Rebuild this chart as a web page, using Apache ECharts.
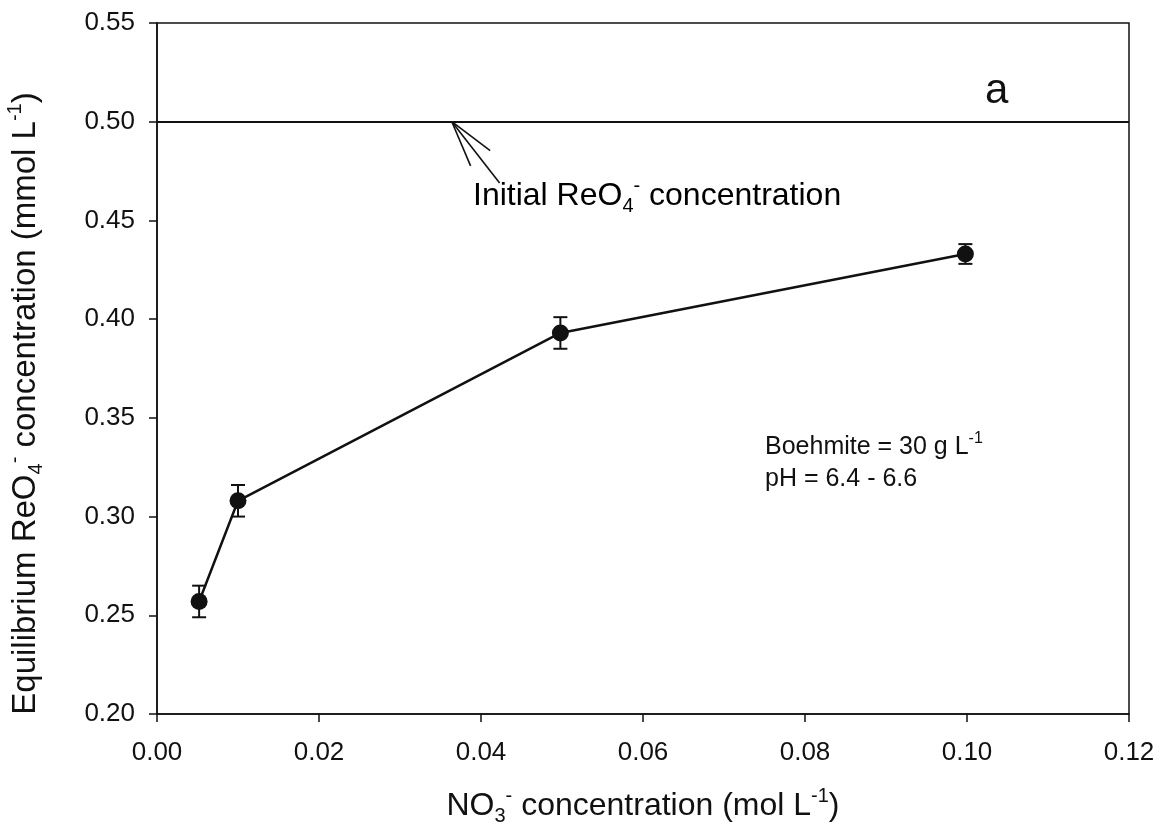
<!DOCTYPE html>
<html>
<head>
<meta charset="utf-8">
<script src="https://cdn.jsdelivr.net/npm/echarts@6/dist/echarts.min.js"></script>
<style>
  html, body { margin: 0; padding: 0; background: #fff; }
  #chart { width: 1166px; height: 839px; }
</style>
</head>
<body>
<div id="chart"></div>
<script>
// nitrate concentration (mol/L) vs equilibrium perrhenate (mmol/L)
const nitrate = [0.0052, 0.0100, 0.0498, 0.0998]
const reo4 = [0.257, 0.308, 0.393, 0.433]
const reo4Err = [0.008, 0.008, 0.008, 0.005]
const initialReo4 = 0.5

const xTicks = [0, 0.02, 0.04, 0.06, 0.08, 0.1, 0.12]
const yTicks = [0.2, 0.25, 0.3, 0.35, 0.4, 0.45, 0.5, 0.55]

// arrow pointing at the initial concentration line: [apexX, apexY, tailX, tailY]
const arrowData = [[0.0364, 0.5, 0.0423, 0.469]]

const FONT = '"Liberation Sans", Arial, sans-serif'

const chart = echarts.init(document.getElementById('chart'))

const points = nitrate.map((x, i) => [x, reo4[i]])
const errors = nitrate.map((x, i) => [x, reo4[i] - reo4Err[i], reo4[i] + reo4Err[i]])

const richBase = (size) => ({
  b: { fontSize: size, fontFamily: FONT, color: '#111', lineHeight: size + 8 },
  sub: { fontSize: Math.round(size * 0.62), fontFamily: FONT, color: '#111', verticalAlign: 'bottom', lineHeight: size + 8 },
  sup: { fontSize: Math.round(size * 0.62), fontFamily: FONT, color: '#111', verticalAlign: 'top', lineHeight: size + 8 },
})

const option = {
  animation: false,
  backgroundColor: '#fff',
  grid: {
    left: 157,
    right: 37,
    top: 23,
    bottom: 125,
    outerBoundsMode: 'none',
    containLabel: false,
    show: true,
    borderColor: '#111',
    borderWidth: 1.5,
    backgroundColor: 'transparent',
  },
  xAxis: {
    type: 'value',
    min: xTicks[0],
    max: xTicks[xTicks.length - 1],
    interval: 0.02,
    name: '{b|NO}{sub|3}{sup|-}{b| concentration (mol L}{sup|-1}{b|)}',
    nameLocation: 'middle',
    nameGap: 72,
    nameTextStyle: { rich: richBase(32) },
    axisLine: { show: true, lineStyle: { color: '#111', width: 1.5 } },
    axisTick: { show: true, length: 8, lineStyle: { color: '#111', width: 1.5 } },
    axisLabel: {
      color: '#111',
      fontSize: 26,
      fontFamily: FONT,
      margin: 26,
      formatter: (v) => v.toFixed(2),
    },
    splitLine: { show: false },
  },
  yAxis: {
    type: 'value',
    min: yTicks[0],
    max: yTicks[yTicks.length - 1],
    interval: 0.05,
    name: '{b|Equilibrium ReO}{sub|4}{sup|-}{b| concentration (mmol L}{sup|-1}{b|)}',
    nameLocation: 'middle',
    nameGap: 111,
    nameTextStyle: { rich: richBase(33), padding: [0, 70, 0, 0] },
    axisLine: { show: true, lineStyle: { color: '#111', width: 1.5 } },
    axisTick: { show: true, length: 8, lineStyle: { color: '#111', width: 1.5 } },
    axisLabel: {
      color: '#111',
      fontSize: 26,
      fontFamily: FONT,
      margin: 22,
      formatter: (v) => v.toFixed(2),
    },
    splitLine: { show: false },
  },
  series: [
    {
      type: 'line',
      data: points,
      symbol: 'circle',
      symbolSize: 17,
      lineStyle: { color: '#111', width: 2.5 },
      itemStyle: { color: '#111' },
      z: 3,
      markLine: {
        silent: true,
        symbol: 'none',
        label: { show: false },
        lineStyle: { color: '#111', width: 1.8, type: 'solid' },
        data: [{ yAxis: initialReo4 }],
      },
    },
    {
      type: 'custom',
      data: errors,
      z: 2,
      renderItem: (params, api) => {
        const lo = api.coord([api.value(0), api.value(1)])
        const hi = api.coord([api.value(0), api.value(2)])
        const w = 7
        const style = { stroke: '#111', lineWidth: 2 }
        return {
          type: 'group',
          children: [
            { type: 'line', shape: { x1: lo[0], y1: lo[1], x2: hi[0], y2: hi[1] }, style },
            { type: 'line', shape: { x1: lo[0] - w, y1: lo[1], x2: lo[0] + w, y2: lo[1] }, style },
            { type: 'line', shape: { x1: hi[0] - w, y1: hi[1], x2: hi[0] + w, y2: hi[1] }, style },
          ],
        }
      },
    },
    {
      type: 'custom',
      data: arrowData,
      z: 2,
      renderItem: (params, api) => {
        const a = api.coord([api.value(0), api.value(1)])
        const t = api.coord([api.value(2), api.value(3)])
        const ang = Math.atan2(t[1] - a[1], t[0] - a[0])
        const len = 48
        const spread = 15 * Math.PI / 180
        const style = { stroke: '#111', lineWidth: 1.6 }
        const barb = (s) => ({
          type: 'line',
          shape: {
            x1: a[0], y1: a[1],
            x2: a[0] + len * Math.cos(ang + s), y2: a[1] + len * Math.sin(ang + s),
          },
          style,
        })
        return {
          type: 'group',
          children: [
            { type: 'line', shape: { x1: a[0], y1: a[1], x2: t[0], y2: t[1] }, style },
            barb(spread),
            barb(-spread),
          ],
        }
      },
    },
  ],
  graphic: [
    {
      type: 'text',
      left: 985,
      top: 70,
      style: { text: 'a', font: '42px ' + FONT, fill: '#111' },
    },
    {
      type: 'text',
      left: 473,
      top: 176,
      style: {
        text: '{b|Initial ReO}{sub|4}{sup|-}{b| concentration}',
        rich: richBase(32),
      },
    },
    {
      type: 'text',
      left: 765,
      top: 431,
      style: {
        text: '{b|Boehmite = 30 g L}{sup|-1}\n{b|pH = 6.4 - 6.6}',
        rich: {
          b: { fontSize: 25, fontFamily: FONT, fill: '#111', lineHeight: 32 },
          sup: { fontSize: 16, fontFamily: FONT, fill: '#111', verticalAlign: 'top', lineHeight: 32 },
        },
      },
    },
  ],
}

chart.setOption(option)
</script>
</body>
</html>
